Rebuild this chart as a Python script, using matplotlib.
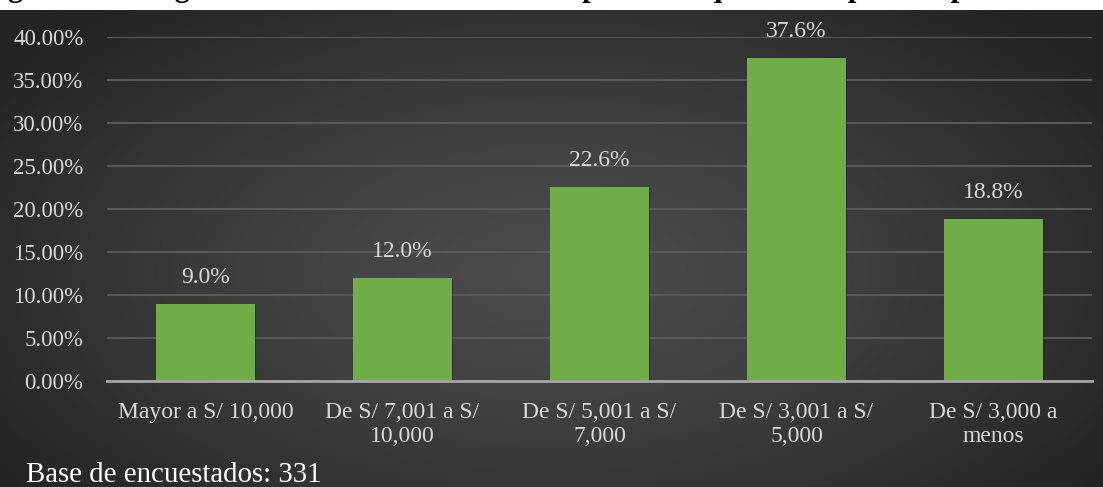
import matplotlib as mpl
import matplotlib.pyplot as plt
import matplotlib.patheffects as pe
import numpy as np

mpl.rcParams["font.family"] = ["Liberation Serif", "DejaVu Serif"]

# Data
categories = ["Mayor a S/ 10,000", "De S/ 7,001 a S/\n10,000", "De S/ 5,001 a S/\n7,000",
              "De S/ 3,001 a S/\n5,000", "De S/ 3,000 a\nmenos"]
values = [9.0, 12.0, 22.6, 37.6, 18.8]
y_ticks = [0, 5, 10, 15, 20, 25, 30, 35, 40]
title = "Figura 3.17. Ingreso neto mensual familiar de personas que tienen perro o planean tenerlo"
base_note = "Base de encuestados: 331"

W, H = 1103, 487
fig = plt.figure(figsize=(W / 100, H / 100), dpi=100)
fig.patch.set_facecolor("white")

# dark radial background below the white title strip
strip = 10
bg = fig.add_axes([0, 0, 1, (H - strip) / H])
bg.set_axis_off()
yy, xx = np.mgrid[0:1:300j, 0:1:600j]
r = np.sqrt(((xx - 0.5) / 0.62) ** 2 + ((yy - 0.55) / 0.75) ** 2)
r = np.clip(r, 0, 1)
light, dark = 0x4c / 255, 0x23 / 255
shade = light + (dark - light) * r ** 1.3
bg.imshow(np.dstack([shade] * 3), aspect="auto", extent=[0, 1, 0, 1], interpolation="bilinear")
bg.set_xlim(0, 1)
bg.set_ylim(0, 1)

# caption above the chart, mostly cut off by the top edge
fig.text(-19 / W, (H + 4) / H, title, fontsize=22, fontweight="bold", color="black",
         ha="left", va="baseline", zorder=0)

ax = fig.add_axes([107 / W, (H - 381) / H, (1092 - 107) / W, (381 - 37) / H])
ax.set_facecolor("none")
x = np.arange(len(categories))
bars = ax.bar(x, values, width=0.5, color="#70AD47", zorder=3)
for b in bars:
    b.set_path_effects([pe.SimplePatchShadow(offset=(1, -1), shadow_rgbFace="black", alpha=0.3),
                        pe.Normal()])

for xi, v in zip(x, values):
    ax.annotate(f"{v:.1f}%", (xi, v), xytext=(0, 19), textcoords="offset points",
                ha="center", va="center", fontsize=17, color="#d9d9d9")

ax.set_xlim(-0.5, len(categories) - 0.5)
ax.set_ylim(0, 40)
ax.set_yticks(y_ticks)
ax.set_yticklabels([f"{t:.2f}%" for t in y_ticks])
ax.set_xticks(x)
ax.set_xticklabels(categories, linespacing=1.2)
ax.tick_params(axis="both", length=0, colors="#d9d9d9")
ax.tick_params(axis="y", pad=17, labelsize=16.5)
ax.tick_params(axis="x", pad=15, labelsize=17)
ax.yaxis.grid(True, color="#585858", linewidth=1.5, zorder=0)
for s in ["top", "right", "left"]:
    ax.spines[s].set_visible(False)
ax.spines["bottom"].set_color("#a6a6a6")
ax.spines["bottom"].set_linewidth(2)
ax.spines["bottom"].set_zorder(4)

fig.text(26 / W, 5 / H, base_note, fontsize=20.8, color="white", ha="left", va="baseline")

fig.savefig("out.png", dpi=100)
